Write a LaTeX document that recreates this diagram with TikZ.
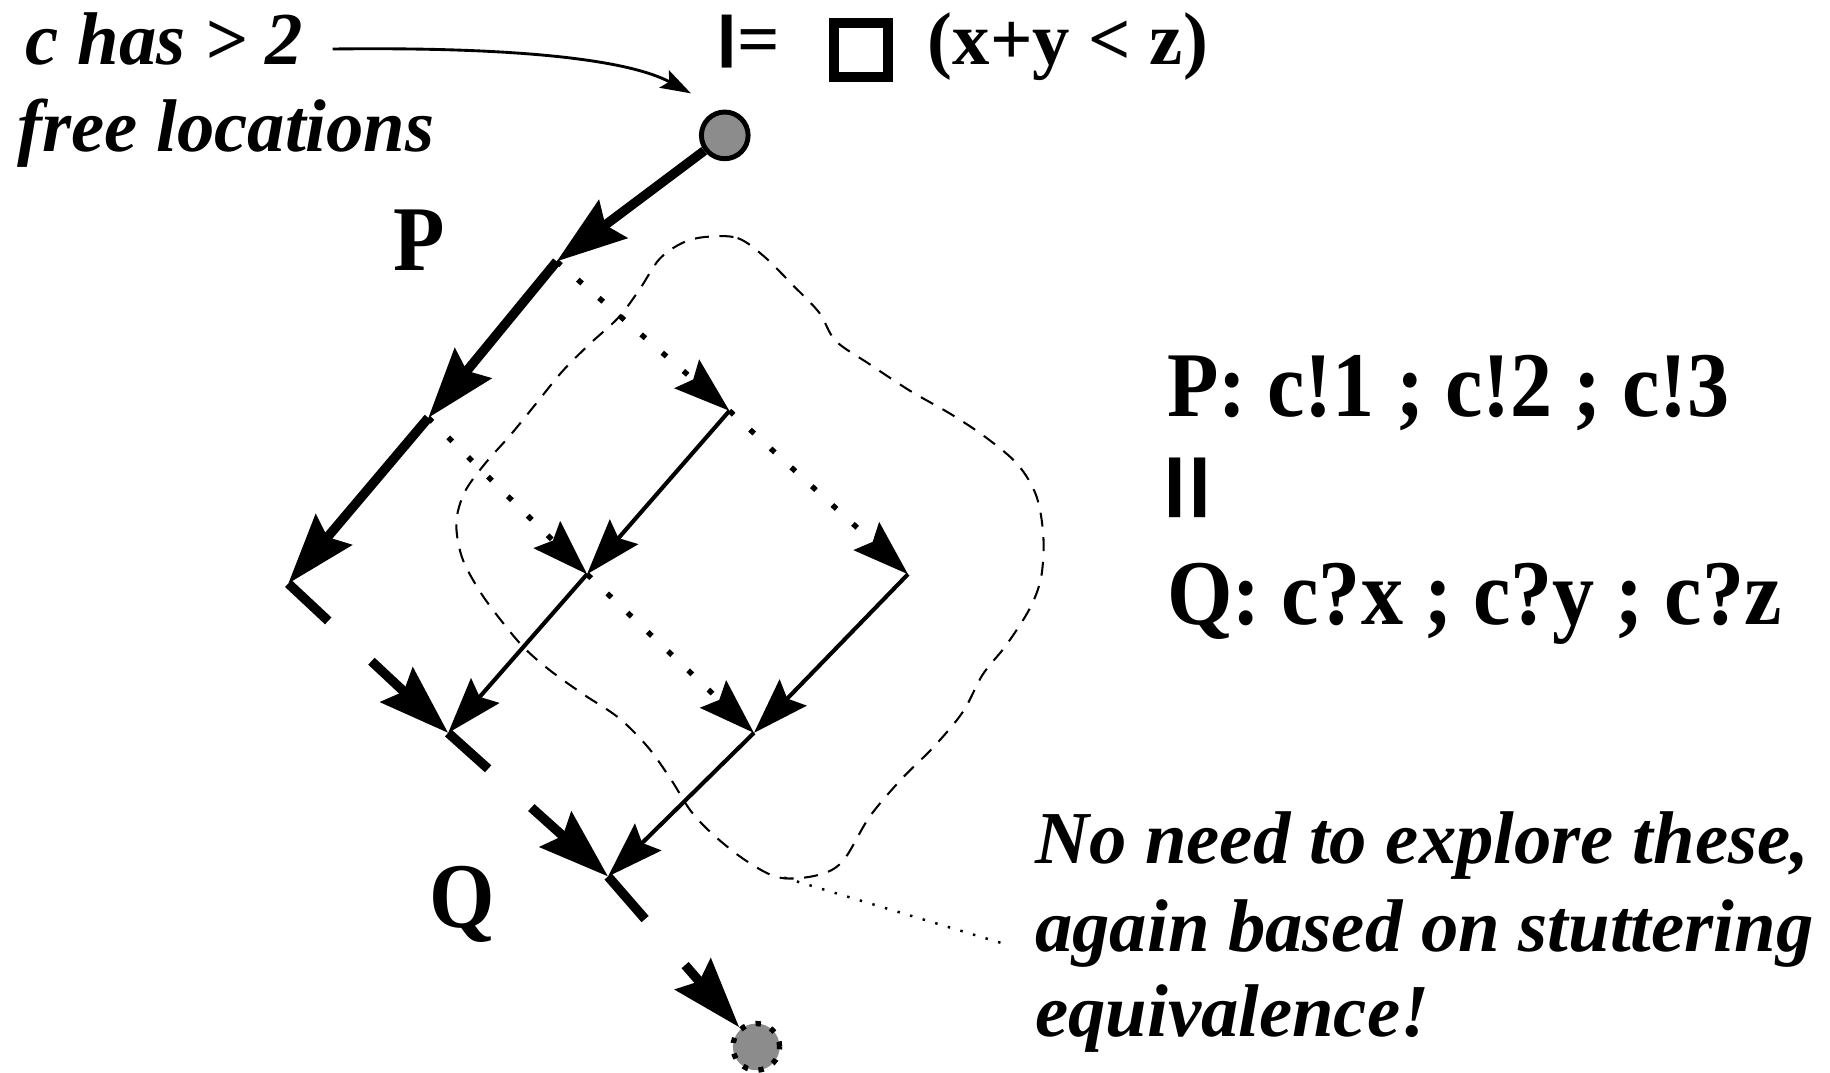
\documentclass[tikz,border=0pt]{standalone}
\usepackage{fontspec}
\setmainfont{Liberation Serif}
\usetikzlibrary{arrows.meta,calc}
\newcommand{\tallbox}[1]{\scalebox{1}[1.1]{#1}}
\newcommand{\fatbar}{\raisebox{0.12em}{\scalebox{1.9}[0.78]{|}}}
\begin{document}
\begin{tikzpicture}[x=0.01cm,y=-0.01cm,
  thickline/.style={line width=2.3pt},
  thickarr/.style={line width=2.3pt,-{Stealth[length=0.6cm,width=0.4cm,inset=0.08cm]}},
  thinarr/.style={line width=1pt,-{Stealth[length=0.48cm,width=0.32cm,inset=0.07cm]}},
  dotarr/.style={line width=1.3pt,dash pattern=on 1.4pt off 5.4pt,-{Stealth[length=0.48cm,width=0.32cm,inset=0.07cm]}},
  blob/.style={line width=0.5pt,dash pattern=on 3.4pt off 2.6pt},
  leader/.style={line width=0.6pt,dash pattern=on 0.6pt off 2.6pt},
  curvarr/.style={line width=0.7pt,-{Stealth[length=0.26cm,width=0.17cm,inset=0.05cm]}},
  startnode/.style={circle,draw,line width=1.2pt,fill=black!45,minimum size=0.4cm,inner sep=0},
  endnode/.style={circle,draw,line width=1.3pt,dash pattern=on 1.3pt off 2.6pt,fill=black!45,minimum size=0.4cm,inner sep=0},
  lbl/.style={anchor=base west,inner sep=0,outer sep=0},
  ibig/.style={lbl,font=\fontsize{18.2}{21}\selectfont\bfseries\itshape},
  bbig/.style={lbl,font=\fontsize{18.2}{21}\selectfont\bfseries},
  bhuge/.style={lbl,font=\fontsize{20.5}{24}\selectfont\bfseries}]
\useasboundingbox (0,0) rectangle (1568,919);

% states
\node[startnode] (A0) at (621,116) {};
\coordinate (A1) at (477,224);
\coordinate (A2) at (367,358);
\coordinate (A3) at (247,500);
\coordinate (B1) at (625,352);
\coordinate (B2) at (503,492);
\coordinate (C) at (384,628);
\coordinate (D) at (778,492);
\coordinate (E) at (646,628);
\coordinate (F) at (521,751);
\node[endnode] (G) at (648,897) {};

% dashed region
\draw[blob] plot[smooth cycle,tension=0.55] coordinates {
 (605,203) (632,204) (655,220) (680,245) (702,268) (716,292) (745,312)
 (780,335) (815,355) (845,375) (872,398) (888,425) (894,460) (892,495)
 (882,522) (862,553) (842,578) (825,610) (800,640) (772,668) (745,700)
 (722,738) (700,750) (668,752) (640,738) (612,716) (592,695) (575,668)
 (555,640) (530,615) (500,595) (472,575) (450,556) (432,535) (412,508)
 (396,478) (391,448) (398,422) (415,398) (438,372) (460,345) (482,318)
 (505,295) (530,272) (548,248) (565,222) (585,208)};

% thick path
\draw[thickarr] (A0) -- (A1);
\draw[thickarr] (A1) -- (A2);
\draw[thickarr] (A2) -- (A3);
\draw[thickline] (A3) -- ($(A3)!0.25!(C)$);
\draw[thickarr] ($(A3)!0.52!(C)$) -- (C);
\draw[thickline] (C) -- ($(C)!0.25!(F)$);
\draw[thickarr] ($(C)!0.52!(F)$) -- (F);
\draw[thickline] (F) -- ($(F)!0.25!(G)$);
\draw[thickarr] ($(F)!0.52!(G)$) -- (G);

% dotted moves
\draw[dotarr] (A1) -- (B1);
\draw[dotarr] (A2) -- (B2);
\draw[dotarr] (B1) -- (D);
\draw[dotarr] (B2) -- (E);

% thin moves
\draw[thinarr] (B1) -- (B2);
\draw[thinarr] (D) -- (E);
\draw[thinarr] (B2) -- (C);
\draw[thinarr] (E) -- (F);

% top labels
\node[ibig] (chas) at (22,55) {c has > 2};
\node[ibig] (free) at (15,130) {free locations};
\coordinate (cs) at (285,42);
\coordinate (ct) at (592,80);
\draw[curvarr] (cs) .. controls (450,40) and (540,52) .. (ct);

\node[bbig] (models) at (610,55) {\fatbar\kern-0.08em=};
\node[draw,line width=2.4pt,minimum size=0.46cm,inner sep=0] (always) at (737.5,43) {};
\node[bbig] (formula) at (795,55) {(x+y < z)};

\node[bhuge] (Plab) at (337,232) {\tallbox{P}};
\node[bhuge] (Qlab) at (368,795) {\tallbox{Q}};

\node[bhuge] (pdef) at (1000,357) {\tallbox{P: c!1 ; c!2 ; c!3}};
\node[bhuge] (par) at (992,440) {\fatbar\kern-0.12em\fatbar};
\node[bhuge] (qdef) at (1000,535) {\tallbox{Q: c?x ; c?y ; c?z}};

\node[ibig] (note1) at (887,740) {No need to explore these,};
\node[ibig] (note2) at (887,815) {again based on stuttering};
\node[ibig] (note3) at (887,888) {equivalence!};
\coordinate (L1) at (672,752);
\coordinate (L2) at (858,808);
\draw[leader] (L1) -- (L2);
\end{tikzpicture}
\end{document}
